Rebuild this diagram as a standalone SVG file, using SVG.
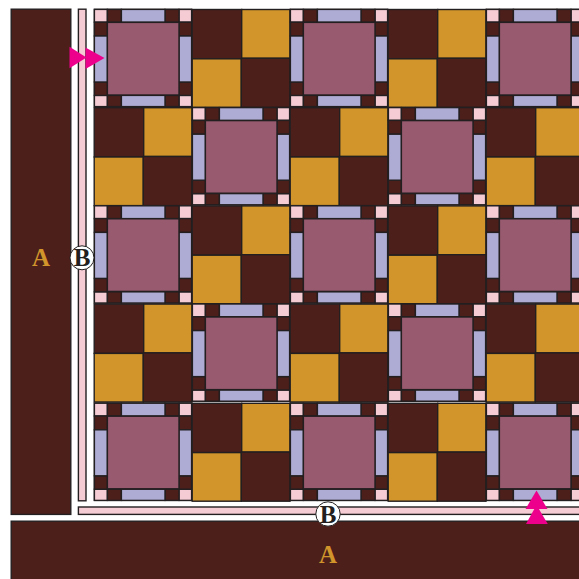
<svg xmlns="http://www.w3.org/2000/svg" width="579" height="579" viewBox="0 0 579 579">
<style>
.d{fill:#4d1f1b}.g{fill:#d1952b}.m{fill:#985a6e}.l{fill:#aeacd4}.p{fill:#f6ccd4}
rect{stroke:#231f20;stroke-width:1.4}
.t{font-family:"Liberation Serif",serif;font-weight:bold;text-anchor:middle;font-size:25px}
.a{fill:#d1952b}.b{fill:#231f20}
.c{fill:#fff;stroke:#231f20;stroke-width:1}
.h{fill:#ec008c}
</style>
<defs>
<g id="star">
<rect class="d" x="0.4" y="0.4" width="97.2" height="97.2"/>
<rect class="p" x="0.4" y="0.4" width="13" height="12.8"/><rect class="p" x="85" y="0.4" width="12.6" height="12.8"/>
<rect class="p" x="0.4" y="86.4" width="13" height="11.2"/><rect class="p" x="85" y="86.4" width="12.6" height="11.2"/>
<rect class="d" x="13.4" y="0.4" width="14" height="12.8"/><rect class="d" x="71" y="0.4" width="14" height="12.8"/>
<rect class="d" x="13.4" y="86.4" width="14" height="11.2"/><rect class="d" x="71" y="86.4" width="14" height="11.2"/>
<rect class="d" x="0.4" y="13.2" width="13" height="13.8"/><rect class="d" x="85" y="13.2" width="12.6" height="13.8"/>
<rect class="d" x="0.4" y="73" width="13" height="13.4"/><rect class="d" x="85" y="73" width="12.6" height="13.4"/>
<rect class="l" x="27.4" y="0.4" width="43.6" height="12.8"/><rect class="l" x="27.4" y="86.4" width="43.6" height="11.2"/>
<rect class="l" x="0.4" y="27" width="13" height="46"/><rect class="l" x="85" y="27" width="12.6" height="46"/>
<rect class="m" x="13.4" y="13.4" width="71.6" height="72.6"/>
</g>
<g id="nine">
<rect class="d" x="0.2" y="0.5" width="49.5" height="49.3"/>
<rect class="g" x="49.7" y="0.5" width="48.3" height="48.8"/>
<rect class="g" x="0.2" y="49.8" width="49.1" height="48.6"/>
<rect class="d" x="49.3" y="49.3" width="48.7" height="49.1"/>
</g>
</defs>
<g id="border-a-left"><rect class="d" x="11.2" y="9.2" width="59.6" height="505.2"/><text class="t a" x="41" y="265.5">A</text></g>
<g id="border-a-bottom"><rect class="d" x="11.2" y="521.2" width="570" height="60"/><text class="t a" x="328" y="563">A</text></g>
<g id="sash-b-left"><rect class="p" x="78.4" y="9.2" width="7.6" height="491.6"/></g>
<g id="sash-b-bottom"><rect class="p" x="78.4" y="507" width="502" height="7.4"/></g>
<g id="quilt">
<use href="#star" x="94" y="9"/><use href="#nine" x="192" y="9"/><use href="#star" x="290" y="9"/><use href="#nine" x="388" y="9"/><use href="#star" x="486" y="9"/>
<use href="#nine" x="94" y="107.2"/><use href="#star" x="192" y="107.2"/><use href="#nine" x="290" y="107.2"/><use href="#star" x="388" y="107.2"/><use href="#nine" x="486" y="107.2"/>
<use href="#star" x="94" y="205.4"/><use href="#nine" x="192" y="205.4"/><use href="#star" x="290" y="205.4"/><use href="#nine" x="388" y="205.4"/><use href="#star" x="486" y="205.4"/>
<use href="#nine" x="94" y="303.6"/><use href="#star" x="192" y="303.6"/><use href="#nine" x="290" y="303.6"/><use href="#star" x="388" y="303.6"/><use href="#nine" x="486" y="303.6"/>
<use href="#star" x="94" y="402.8"/><use href="#nine" x="192" y="402.8"/><use href="#star" x="290" y="402.8"/><use href="#nine" x="388" y="402.8"/><use href="#star" x="486" y="402.8"/>
</g>
<g id="label-b-left"><circle class="c" cx="82" cy="257.8" r="12"/><text class="t b" x="82" y="266">B</text></g>
<g id="label-b-bottom"><circle class="c" cx="328" cy="514" r="12.2"/><text class="t b" x="328" y="522.5">B</text></g>
<g id="connectors">
<polygon class="h" points="69.5,46.7 86.5,57.5 69.5,68.3"/>
<polygon class="h" points="85.5,47.5 104.5,58 85.5,69"/>
<polygon class="h" points="536.5,490.5 547.5,509 525.5,509"/>
<polygon class="h" points="536.5,505 547.8,524 526,524"/>
</g>
</svg>
